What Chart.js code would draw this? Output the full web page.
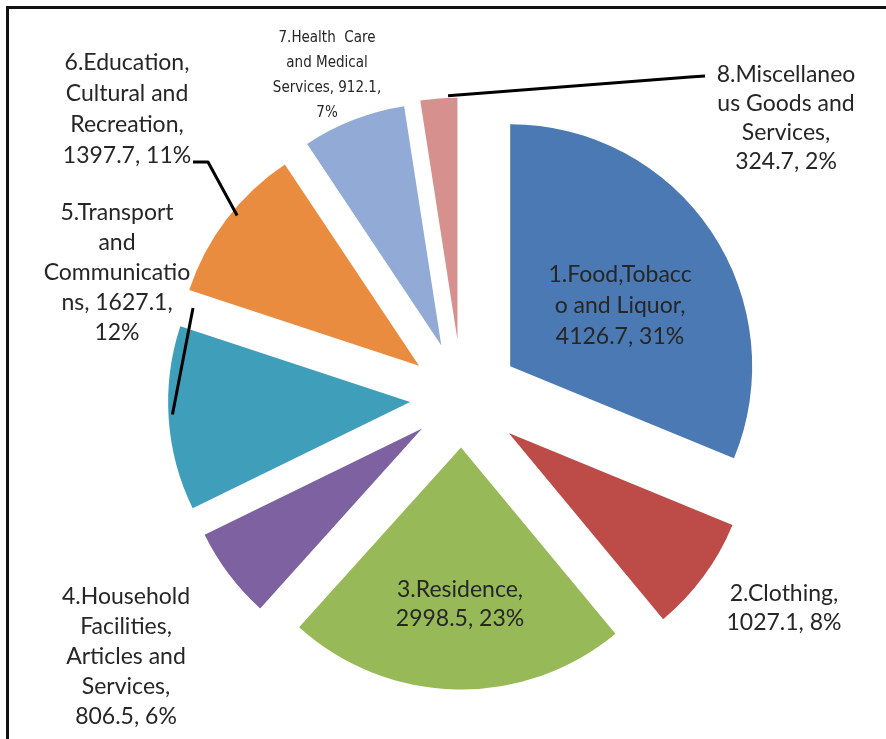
<!DOCTYPE html>
<html>
<head>
<meta charset="utf-8">
<script src="https://cdn.jsdelivr.net/npm/chart.js@4.4.0/dist/chart.umd.min.js"></script>
<style>
  html, body { margin: 0; background: #fff; }
  #frame { position: relative; width: 886px; height: 739px; overflow: hidden; }
  #frame::before {
    content: ''; position: absolute; left: 6px; top: 6px; right: -10px; bottom: -10px;
    border-left: 3px solid #111; border-top: 3px solid #111;
  }
  canvas { position: absolute; left: 0; top: 0; }
</style>
</head>
<body>
<div id="frame"><canvas id="pie" width="886" height="739"></canvas></div>
<script>
// consumption expenditure by category
const categories = [
  '1.Food,Tobacco and Liquor',
  '2.Clothing',
  '3.Residence',
  '4.Household Facilities, Articles and Services',
  '5.Transport and Communications',
  '6.Education, Cultural and Recreation',
  '7.Health Care and Medical Services',
  '8.Miscellaneous Goods and Services'
];
const values = [4126.7, 1027.1, 2998.5, 806.5, 1627.1, 1397.7, 912.1, 324.7];

// label text per slice, wrapped; {v} = value, {p} = share
const labelLines = [
  ['1.Food,Tobacc', 'o and Liquor,', '{v}, {p}'],
  ['2.Clothing,', '{v}, {p}'],
  ['3.Residence,', '{v}, {p}'],
  ['4.Household', 'Facilities,', 'Articles and', 'Services,', '{v}, {p}'],
  ['5.Transport', 'and', 'Communicatio', 'ns, {v},', '{p}'],
  ['6.Education,', 'Cultural and', 'Recreation,', '{v}, {p}'],
  ['7.Health  Care', 'and Medical', 'Services, {v},', '{p}'],
  ['8.Miscellaneo', 'us Goods and', 'Services,', '{v}, {p}']
];

const colors = ['#4a79b3', '#bd4c49', '#97b957', '#7d61a0', '#3f9fbb', '#e98c40', '#91abd6', '#d6918f'];
// how far each slice is pulled out from the centre
const pull = [58, 58, 49, 50, 52, 54, 57, 59];

const mainFont = '23px Lato';
const smallFont = '15px "DejaVu Sans Condensed"';
// label anchor: centre x, first line y, line step, font
const labelPos = [
  { x: 620, y: 275, step: 31, font: mainFont },
  { x: 784, y: 594, step: 29, font: mainFont },
  { x: 460, y: 590, step: 29, font: mainFont },
  { x: 126, y: 597, step: 30, font: mainFont },
  { x: 117, y: 213, step: 30, font: mainFont },
  { x: 127, y: 63, step: 31, font: mainFont },
  { x: 327, y: 38, step: 25, font: smallFont },
  { x: 786, y: 75, step: 29, font: mainFont }
];

// leader lines: start on a slice rim (fraction t along the arc, r = radial nudge), then through label-side points
const leaders = [
  { slice: 4, t: 0.52, r: -4, to: [[193, 308]] },
  { slice: 5, t: 0.56, r: -6, to: [[208, 162], [193, 162]] },
  { slice: 7, t: 0.75, r: 2, to: [[690, 77], [705, 76]] }
];

const total = values.reduce((a, b) => a + b, 0);

function labelText(i) {
  const v = values[i].toFixed(1);
  const p = Math.round(values[i] / total * 100) + '%';
  return labelLines[i].map(s => s.replace('{v}', v).replace('{p}', p));
}

function rimPoint(arc, i, t, r) {
  const mid = (arc.startAngle + arc.endAngle) / 2;
  const a = arc.startAngle + (arc.endAngle - arc.startAngle) * t;
  const rad = arc.outerRadius + r;
  return [
    arc.x + Math.cos(mid) * pull[i] + Math.cos(a) * rad,
    arc.y + Math.sin(mid) * pull[i] + Math.sin(a) * rad
  ];
}

// draw each slice shifted outward along its middle angle
const explodedSlices = {
  id: 'explodedSlices',
  beforeDatasetDraw(chart, args) {
    const ctx = chart.ctx;
    args.meta.data.forEach((arc, i) => {
      const mid = (arc.startAngle + arc.endAngle) / 2;
      ctx.save();
      ctx.translate(Math.cos(mid) * pull[i], Math.sin(mid) * pull[i]);
      arc.draw(ctx);
      ctx.restore();
    });
    return false;
  }
};

const sliceLabels = {
  id: 'sliceLabels',
  afterDraw(chart) {
    const ctx = chart.ctx;
    const arcs = chart.getDatasetMeta(0).data;
    ctx.save();
    ctx.strokeStyle = '#000';
    ctx.lineWidth = 3;
    ctx.lineJoin = 'round';
    leaders.forEach(l => {
      const start = rimPoint(arcs[l.slice], l.slice, l.t, l.r);
      ctx.beginPath();
      ctx.moveTo(start[0], start[1]);
      l.to.forEach(p => ctx.lineTo(p[0], p[1]));
      ctx.stroke();
    });
    ctx.fillStyle = '#262626';
    ctx.textAlign = 'center';
    ctx.textBaseline = 'middle';
    labelPos.forEach((pos, i) => {
      ctx.font = pos.font;
      labelText(i).forEach((line, k) => {
        ctx.fillText(line, pos.x, pos.y + k * pos.step);
      });
    });
    ctx.restore();
  }
};

new Chart(document.getElementById('pie'), {
  type: 'pie',
  data: {
    labels: categories,
    datasets: [{
      data: values,
      backgroundColor: colors,
      borderWidth: 0
    }]
  },
  options: {
    responsive: false,
    animation: false,
    radius: 242,
    layout: { padding: { left: 38, right: 0, top: 60, bottom: 2 } },
    plugins: {
      legend: { display: false },
      tooltip: { enabled: false }
    },
    events: []
  },
  plugins: [explodedSlices, sliceLabels]
});
</script>
</body>
</html>
